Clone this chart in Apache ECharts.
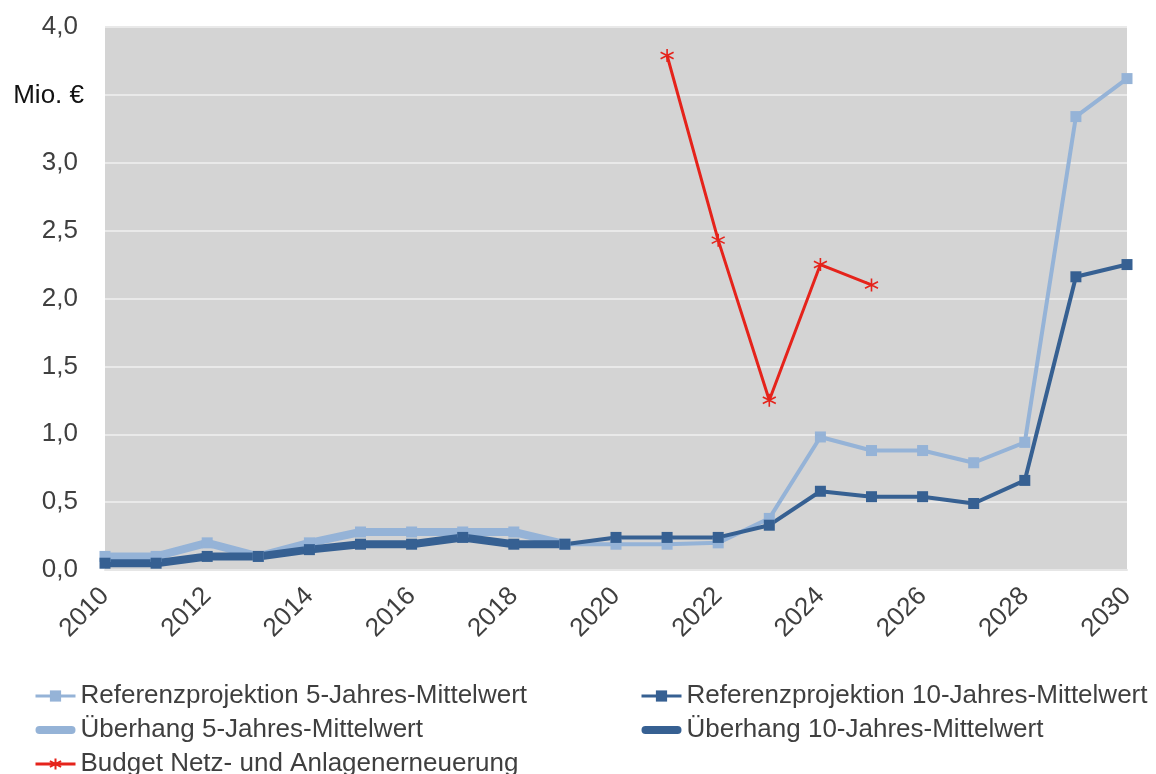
<!DOCTYPE html>
<html>
<head>
<meta charset="utf-8">
<script src="https://cdn.jsdelivr.net/npm/echarts@6/dist/echarts.min.js"></script>
<style>
  html, body { margin: 0; padding: 0; background: #ffffff; }
  #chart { width: 1156px; height: 774px; }
</style>
</head>
<body>
<div id="chart"></div>
<script>
// Jahre der x-Achse
const years = ['2010','2011','2012','2013','2014','2015','2016','2017','2018','2019','2020',
               '2021','2022','2023','2024','2025','2026','2027','2028','2029','2030'];

// Referenzprojektion (Mio. €)
const ref5  = [0.10, 0.10, 0.20, 0.10, 0.20, 0.28, 0.28, 0.28, 0.28, 0.19, 0.19,
               0.19, 0.20, 0.38, 0.98, 0.88, 0.88, 0.79, 0.94, 3.34, 3.62];
const ref10 = [0.05, 0.05, 0.10, 0.10, 0.15, 0.19, 0.19, 0.24, 0.19, 0.19, 0.24,
               0.24, 0.24, 0.33, 0.58, 0.54, 0.54, 0.49, 0.66, 2.16, 2.25];

// Überhang (bis 2019)
const ueb5  = [0.10, 0.10, 0.20, 0.10, 0.20, 0.28, 0.28, 0.28, 0.28, 0.19, null,
               null, null, null, null, null, null, null, null, null, null];
const ueb10 = [0.05, 0.05, 0.10, 0.10, 0.15, 0.19, 0.19, 0.24, 0.19, 0.19, null,
               null, null, null, null, null, null, null, null, null, null];

// Budget Netz- und Anlagenerneuerung (2021–2025)
const budget = [null, null, null, null, null, null, null, null, null, null, null,
                3.79, 2.43, 1.25, 2.25, 2.10, null, null, null, null, null];

// Serienbezeichnungen
const names = {
  ref5: 'Referenzprojektion 5-Jahres-Mittelwert',
  ref10: 'Referenzprojektion 10-Jahres-Mittelwert',
  ueb5: 'Überhang 5-Jahres-Mittelwert',
  ueb10: 'Überhang 10-Jahres-Mittelwert',
  budget: 'Budget Netz- und Anlagenerneuerung'
};
const unitLabel = 'Mio. €';

const LIGHT = '#95B3D7';
const DARK = '#366092';
const RED = '#E5231B';
const TEXT = '#3F3F3F';
const FONT = '"Liberation Sans", Arial, sans-serif';

// Sternchen-Marker (X mit senkrechtem Strich)
const asterisk = 'path://M10 0 L10 20 M1.34 5 L18.66 15 M1.34 15 L18.66 5';
// Dicke Linie mit runden Enden für die Überhang-Legende
const thickLineIcon = 'path://M4 0 H36 A4 4 0 0 1 36 8 H4 A4 4 0 0 1 4 0 Z';

const legendCommon = {
  orient: 'vertical',
  top: 683,
  height: 120,
  padding: 0,
  itemWidth: 40, itemHeight: 14, itemGap: 8,
  lineStyle: { width: 3 },
  textStyle: { color: TEXT, fontSize: 26, lineHeight: 26, fontFamily: FONT }
};

const chart = echarts.init(document.getElementById('chart'), null, { renderer: 'canvas' });

chart.setOption({
  animation: false,
  backgroundColor: '#ffffff',
  textStyle: { fontFamily: FONT },
  grid: {
    left: 105, right: 29, top: 27, bottom: 204,
    show: true, backgroundColor: '#D4D4D4', borderWidth: 0
  },
  graphic: [{
    type: 'text',
    right: 1156 - 84,
    top: 83,
    style: { text: unitLabel, fill: '#111111', font: '26px ' + FONT }
  }],
  legend: [Object.assign({}, legendCommon, {
    left: 34,
    data: [
      { name: names.ref5 },
      { name: names.ueb5, icon: thickLineIcon },
      { name: names.budget }
    ]
  }), Object.assign({}, legendCommon, {
    left: 640,
    data: [
      { name: names.ref10 },
      { name: names.ueb10, icon: thickLineIcon }
    ]
  })],
  xAxis: {
    type: 'category',
    data: years,
    boundaryGap: false,
    axisLine: { show: true, lineStyle: { color: '#E6E6E6', width: 2 } },
    axisTick: { show: false },
    splitLine: { show: false },
    axisLabel: {
      interval: 1,
      rotate: 45,
      margin: 22,
      color: TEXT,
      fontSize: 26,
      fontFamily: FONT
    }
  },
  yAxis: {
    type: 'value',
    min: 0, max: 4, interval: 0.5,
    axisLine: { show: false },
    axisTick: { show: false },
    splitLine: { show: true, lineStyle: { color: '#E9E9E9', width: 2 } },
    axisLabel: {
      margin: 27,
      color: TEXT,
      fontSize: 26,
      fontFamily: FONT,
      formatter: v => (Math.abs(v - 3.5) < 1e-9 ? '' : v.toFixed(1).replace('.', ','))
    }
  },
  series: [{
    name: names.ref5, type: 'line', data: ref5,
    symbol: 'rect', symbolSize: 11,
    lineStyle: { color: LIGHT, width: 4 },
    itemStyle: { color: LIGHT }
  }, {
    name: names.ueb5, type: 'line', data: ueb5,
    symbol: 'none',
    lineStyle: { color: LIGHT, width: 8, cap: 'round', join: 'round' },
    itemStyle: { color: LIGHT }
  }, {
    name: names.ref10, type: 'line', data: ref10,
    symbol: 'rect', symbolSize: 11,
    lineStyle: { color: DARK, width: 4 },
    itemStyle: { color: DARK }
  }, {
    name: names.ueb10, type: 'line', data: ueb10,
    symbol: 'none',
    lineStyle: { color: DARK, width: 8, cap: 'round', join: 'round' },
    itemStyle: { color: DARK }
  }, {
    name: names.budget, type: 'line', data: budget,
    symbol: asterisk, symbolSize: 13,
    lineStyle: { color: RED, width: 3 },
    itemStyle: { color: RED, borderColor: RED, borderWidth: 1.6 }
  }]
});
</script>
</body>
</html>
